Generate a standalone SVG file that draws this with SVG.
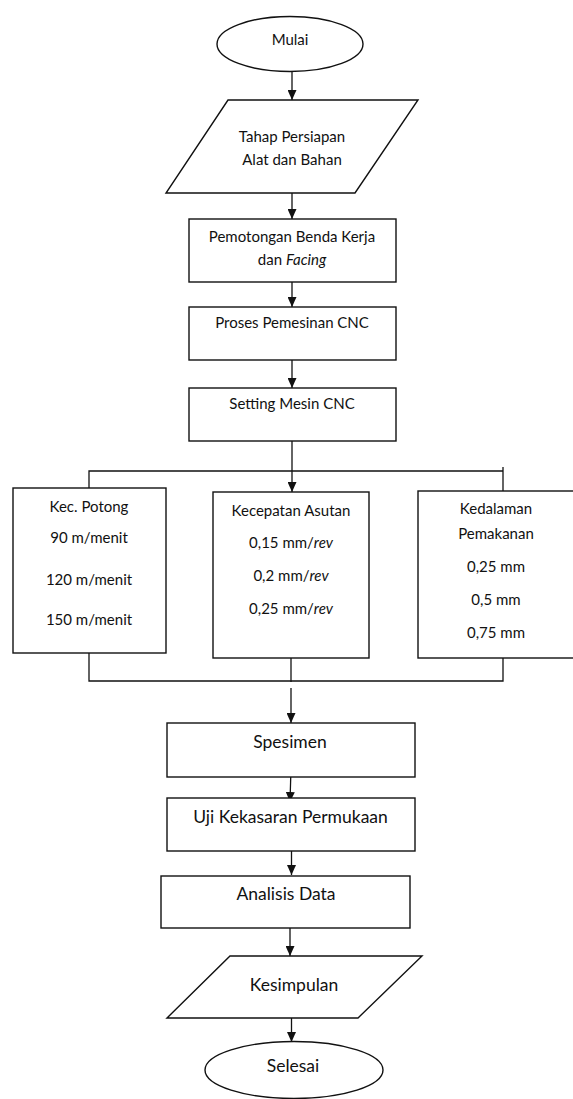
<svg xmlns="http://www.w3.org/2000/svg" width="573" height="1099" viewBox="0 0 573 1099">
<style>
.s{fill:#fff;stroke:#111;stroke-width:1.4}
.c{fill:none;stroke:#111;stroke-width:1.3}
.t{font-family:Lato,"Open Sans","Liberation Sans",sans-serif;font-size:15px;fill:#111;text-anchor:middle}
.L{font-size:17.5px}
</style>
<defs>
<marker id="ah" markerUnits="userSpaceOnUse" markerWidth="10" markerHeight="9" refX="10" refY="4.5" orient="auto" viewBox="0 0 10 9">
<path d="M0,0 L10,4.5 L0,9 Z" fill="#111"/>
</marker>
</defs>
<g id="connectors">
<line class="c" x1="292" y1="72" x2="292" y2="100" marker-end="url(#ah)"/>
<line class="c" x1="292" y1="193" x2="292" y2="219" marker-end="url(#ah)"/>
<line class="c" x1="292" y1="282" x2="292" y2="307" marker-end="url(#ah)"/>
<line class="c" x1="292" y1="360" x2="292" y2="388" marker-end="url(#ah)"/>
<line class="c" x1="292" y1="441" x2="292" y2="492" marker-end="url(#ah)"/>
<polyline class="c" points="89,488 89,471 503,471"/>
<line class="c" x1="503" y1="467" x2="503" y2="491"/>
<polyline class="c" points="89,653 89,681 503,681 503,658"/>
<line class="c" x1="291" y1="658" x2="291" y2="682"/>
<line class="c" x1="291" y1="688" x2="291" y2="723" marker-end="url(#ah)"/>
<line class="c" x1="291" y1="768" x2="290" y2="802" marker-end="url(#ah)"/>
<line class="c" x1="291.5" y1="851" x2="291.5" y2="875" marker-end="url(#ah)"/>
<line class="c" x1="290" y1="928" x2="290" y2="956" marker-end="url(#ah)"/>
<line class="c" x1="291.5" y1="1017" x2="291.5" y2="1042" marker-end="url(#ah)"/>
</g>
<g id="mulai">
<ellipse class="s" cx="290" cy="44" rx="73" ry="27.5"/>
<text class="t" x="290" y="45">Mulai</text>
</g>
<g id="persiapan">
<polygon class="s" points="228,100 418,100 355,193 166,193"/>
<text class="t" x="292" y="142">Tahap Persiapan</text>
<text class="t" x="292" y="165">Alat dan Bahan</text>
</g>
<g id="pemotongan">
<rect class="s" x="189" y="219" width="207" height="63"/>
<text class="t" x="292" y="242">Pemotongan Benda Kerja</text>
<text class="t" x="292" y="265">dan <tspan font-style="italic">Facing</tspan></text>
</g>
<g id="proses">
<rect class="s" x="189" y="307" width="207" height="53"/>
<text class="t" x="292" y="328">Proses Pemesinan CNC</text>
</g>
<g id="setting">
<rect class="s" x="189" y="388" width="207" height="53"/>
<text class="t" x="292" y="409">Setting Mesin CNC</text>
</g>
<g id="kec-potong">
<rect class="s" x="13" y="488" width="153" height="165"/>
<text class="t" x="89" y="512">Kec. Potong</text>
<text class="t" x="89" y="543">90 m/menit</text>
<text class="t" x="89" y="585">120 m/menit</text>
<text class="t" x="89" y="625">150 m/menit</text>
</g>
<g id="kecepatan-asutan">
<rect class="s" x="213" y="492" width="156" height="166"/>
<text class="t" x="291" y="516">Kecepatan Asutan</text>
<text class="t" x="291" y="548">0,15 mm/<tspan font-style="italic">rev</tspan></text>
<text class="t" x="291" y="581">0,2 mm/<tspan font-style="italic">rev</tspan></text>
<text class="t" x="291" y="614">0,25 mm/<tspan font-style="italic">rev</tspan></text>
</g>
<g id="kedalaman">
<rect class="s" x="418" y="491" width="160" height="167"/>
<text class="t" x="496" y="514">Kedalaman</text>
<text class="t" x="496" y="539">Pemakanan</text>
<text class="t" x="496" y="572">0,25 mm</text>
<text class="t" x="496" y="605">0,5 mm</text>
<text class="t" x="496" y="638">0,75 mm</text>
</g>
<g id="spesimen">
<rect class="s" x="167" y="723" width="248" height="54"/>
<text class="t L" x="290" y="748">Spesimen</text>
</g>
<g id="uji">
<rect class="s" x="167" y="798" width="248" height="53"/>
<text class="t L" x="290.5" y="823">Uji Kekasaran Permukaan</text>
</g>
<g id="analisis">
<rect class="s" x="161" y="876" width="249" height="52"/>
<text class="t L" x="286" y="900">Analisis Data</text>
</g>
<g id="kesimpulan">
<polygon class="s" points="230,956 422,956 358,1018 167,1018"/>
<text class="t L" x="294" y="991">Kesimpulan</text>
</g>
<g id="selesai">
<ellipse class="s" cx="294" cy="1070" rx="89" ry="28.5"/>
<text class="t L" x="293" y="1072">Selesai</text>
</g>
</svg>
